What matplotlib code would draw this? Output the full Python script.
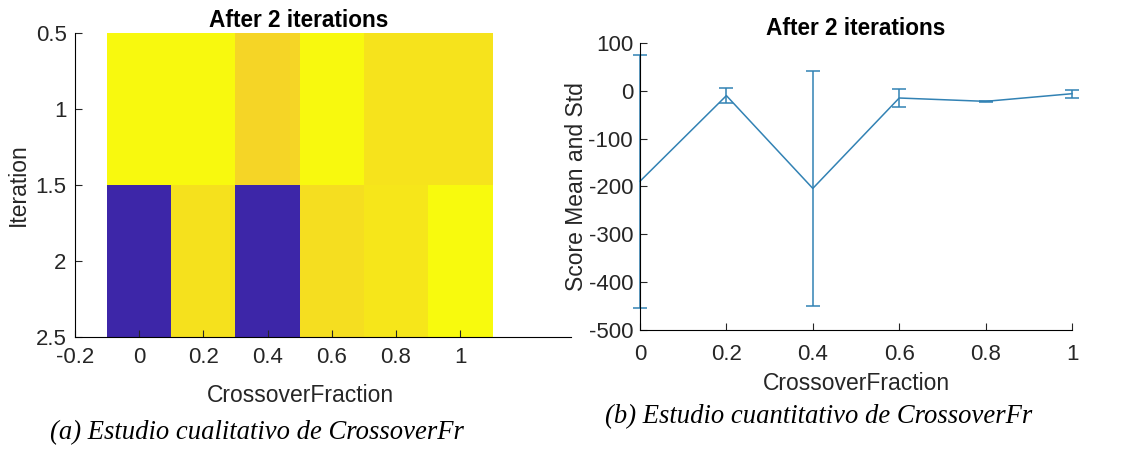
import matplotlib
matplotlib.use("Agg")
import matplotlib.pyplot as plt
import numpy as np
from matplotlib.colors import LinearSegmentedColormap

# ---------------------------------------------------------------------------
# Data
# ---------------------------------------------------------------------------
crossover = [0, 0.2, 0.4, 0.6, 0.8, 1.0]
iterations = [1, 2]
# best score per (iteration, CrossoverFraction) cell -> colour of heat map
score_iter1 = [-2, -2, -36, -2, -23, -23]
score_iter2 = [-400, -24, -400, -28, -20, 0]
# mean and std of score after 2 iterations
score_mean = [-189, -10, -204, -15, -22, -6]
score_std = [264, 15, 245, 18, 1, 8]

xticks_left = [-0.2, 0, 0.2, 0.4, 0.6, 0.8, 1]
yticks_left = [0.5, 1, 1.5, 2, 2.5]
yticks_right = [100, 0, -100, -200, -300, -400, -500]

# MATLAB parula-like colormap
PARULA = LinearSegmentedColormap.from_list("parula", [
    (0.00, (0.2422, 0.1504, 0.6603)),
    (0.15, (0.2700, 0.3900, 0.9900)),
    (0.30, (0.1200, 0.6000, 0.9000)),
    (0.45, (0.0700, 0.7400, 0.7300)),
    (0.60, (0.3800, 0.8000, 0.4200)),
    (0.75, (0.8000, 0.7500, 0.1900)),
    (0.85, (0.9900, 0.7700, 0.2200)),
    (0.92, (0.9600, 0.8500, 0.1400)),
    (1.00, (0.9760, 0.9830, 0.0540)),
])
LINE = "#3282b4"
TXT = "#262626"

plt.rcParams["font.family"] = ["Liberation Sans", "DejaVu Sans"]
plt.rcParams["axes.unicode_minus"] = False
plt.rcParams["xtick.direction"] = "in"
plt.rcParams["ytick.direction"] = "in"

fig = plt.figure(figsize=(11.41, 4.5), dpi=100)

# ---------------------------------------------------------------------------
# (a) heat map
# ---------------------------------------------------------------------------
ax1 = fig.add_axes([75 / 1141, 1 - 337 / 450, 496 / 1141, 304 / 450])
grid = np.array([score_iter1, score_iter2])
ax1.imshow(grid, cmap=PARULA, vmin=-400, vmax=0, aspect="auto",
           interpolation="nearest",
           extent=[crossover[0] - 0.1, crossover[-1] + 0.1,
                   iterations[-1] + 0.5, iterations[0] - 0.5])
ax1.set_xlim(-0.2, 1.345)
ax1.set_ylim(2.5, 0.5)
ax1.set_xticks(xticks_left)
ax1.set_xticklabels([f"{v:g}" for v in xticks_left])
ax1.set_yticks(yticks_left)
ax1.set_yticklabels([f"{v:g}" for v in yticks_left])
for s in ("top", "right"):
    ax1.spines[s].set_visible(False)
ax1.tick_params(labelsize=16, length=5, width=0.8, colors=TXT)
ax1.tick_params(axis="x", pad=7)
ax1.tick_params(axis="y", pad=6)
ax1.set_xlabel("CrossoverFraction", fontsize=16.5, color=TXT, labelpad=12)
ax1.xaxis.label.set_x(0.455)
ax1.set_ylabel("Iteration", fontsize=16.5, color=TXT, labelpad=4)
ax1.set_title("After 2 iterations", fontsize=16.3, fontweight="bold",
              pad=4, x=0.45)

# ---------------------------------------------------------------------------
# (b) mean +/- std
# ---------------------------------------------------------------------------
ax2 = fig.add_axes([640 / 1141, 1 - 330 / 450, 432 / 1141, 287 / 450])
ax2.errorbar(crossover, score_mean, yerr=score_std, color=LINE, lw=1.1,
             capsize=5, capthick=1.1, clip_on=False)
ax2.set_xlim(0, 1)
ax2.set_ylim(-500, 100)
ax2.set_xticks(crossover)
ax2.set_xticklabels([f"{v:g}" for v in crossover])
ax2.set_yticks(yticks_right)
for s in ("top", "right"):
    ax2.spines[s].set_visible(False)
ax2.tick_params(labelsize=16, length=5, width=0.8, colors=TXT)
ax2.tick_params(axis="x", pad=10)
ax2.tick_params(axis="y", pad=5)
ax2.set_xlabel("CrossoverFraction", fontsize=16.5, color=TXT, labelpad=5)
ax2.set_ylabel("Score Mean and Std", fontsize=16.5, color=TXT, labelpad=0)
ax2.set_title("After 2 iterations", fontsize=16.3, fontweight="bold", pad=6)

# sub-captions
cap = dict(fontsize=19.2, family=["Liberation Serif"], style="italic",
           ha="center", va="center")
fig.text(257 / 1141, 1 - 433 / 450, "(a) Estudio cualitativo de CrossoverFr", **cap)
fig.text(819 / 1141, 1 - 417 / 450, "(b) Estudio cuantitativo de CrossoverFr", **cap)

fig.savefig("out.png", dpi=100)
